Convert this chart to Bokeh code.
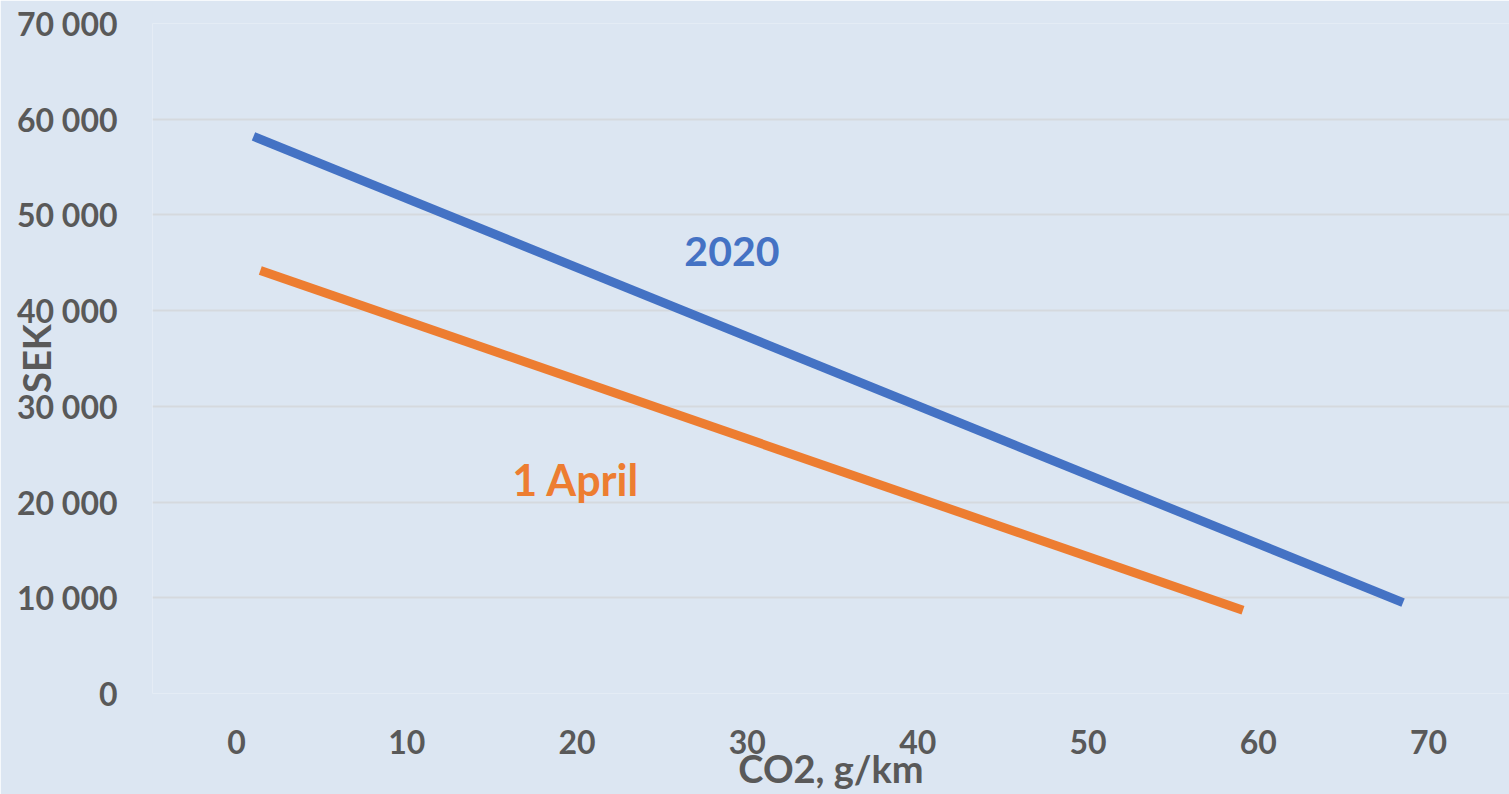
from bokeh.plotting import figure
from bokeh.models import Range1d, Label, FixedTicker, CustomJSTickFormatter
from bokeh.embed import file_html
from bokeh.resources import INLINE

# ---- data ----
co2_2020 = [1.0, 68.5]
sek_2020 = [58200, 9500]
co2_april = [1.4, 59.1]
sek_april = [44200, 8700]
x_ticks = [0, 10, 20, 30, 40, 50, 60, 70]
y_ticks = [0, 10000, 20000, 30000, 40000, 50000, 60000, 70000]
series_names = ["2020", "1 April"]
x_title = "CO2, g/km"
y_title = "SEK"

BG = "#DCE6F2"
GRAY = "#595959"
BLUE = "#4472C4"
ORANGE = "#ED7D31"
FONT = "Lato"

p = figure(width=1509, height=794, output_backend="svg", toolbar_location=None,
           x_range=Range1d(-4.93, 74.75), y_range=Range1d(0, 70000),
           min_border_left=152, min_border_right=0, min_border_top=23, min_border_bottom=101)
p.background_fill_color = BG
p.border_fill_color = BG
p.outline_line_color = None

p.xgrid.grid_line_color = None
p.ygrid.grid_line_color = "#D5D9DE"
p.ygrid.grid_line_width = 2
p.ygrid.ticker = FixedTicker(ticks=y_ticks)

for ax in (p.xaxis, p.yaxis):
    ax.axis_line_color = None
    ax.major_tick_line_color = None
    ax.minor_tick_line_color = None
    ax.major_tick_out = 0
    ax.major_tick_in = 0
    ax.major_label_text_font = FONT
    ax.major_label_text_font_style = "bold"
    ax.major_label_text_font_size = "32px"
    ax.major_label_text_color = GRAY
    ax.axis_label_text_font = FONT
    ax.axis_label_text_font_style = "bold"
    ax.axis_label_text_font_size = "38px"
    ax.axis_label_text_color = GRAY

p.xaxis.ticker = FixedTicker(ticks=x_ticks)
p.yaxis.ticker = FixedTicker(ticks=y_ticks)
p.xaxis.major_label_standoff = 36
p.yaxis.major_label_standoff = 35
p.yaxis.formatter = CustomJSTickFormatter(code="""
    return Math.round(tick).toString().replace(/\\B(?=(\\d{3})+(?!\\d))/g, ' ');
""")
p.xaxis.axis_label = x_title
p.yaxis.axis_label = y_title
p.xaxis.axis_label_standoff = -12
p.yaxis.axis_label_standoff = -45

p.line(co2_2020, sek_2020, line_color=BLUE, line_width=9, line_cap="butt")
p.line(co2_april, sek_april, line_color=ORANGE, line_width=9, line_cap="butt")

p.add_layout(Label(x=26.3, y=46150, text=series_names[0], text_font=FONT, text_font_style="bold",
                   text_font_size="41px", text_color=BLUE, text_baseline="alphabetic"))
p.add_layout(Label(x=16.2, y=22320, text=series_names[1], text_font=FONT, text_font_style="bold",
                   text_font_size="43px", text_color=ORANGE, text_baseline="alphabetic"))

open("out.html", "w").write(file_html(p, INLINE))
